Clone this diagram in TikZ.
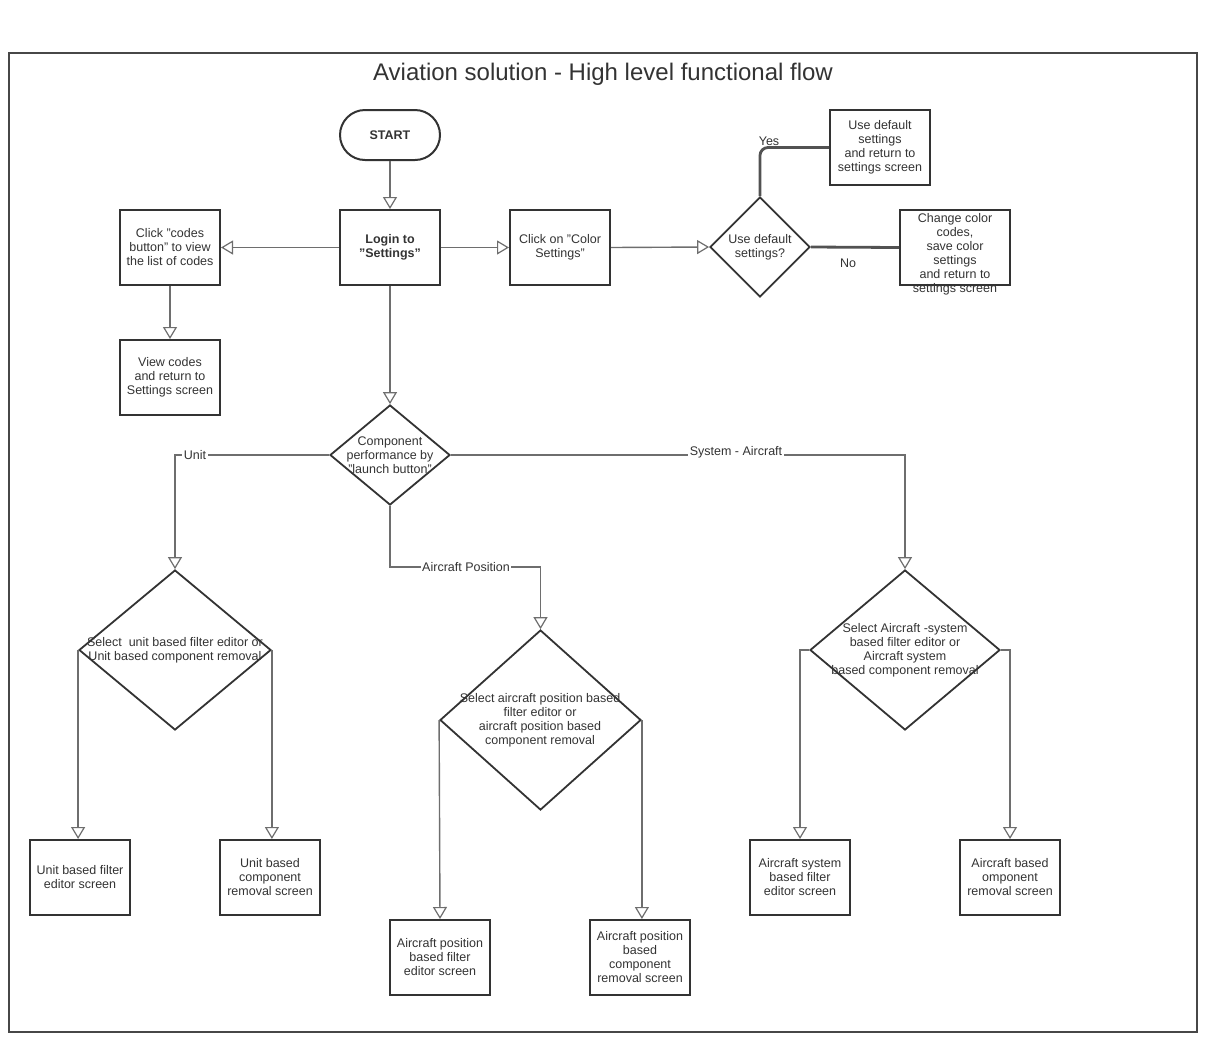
\documentclass[tikz,border=0pt]{standalone}
\usepackage{fontspec}
\setmainfont{Liberation Sans}
\usetikzlibrary{arrows.meta,shapes.geometric}
\definecolor{linegray}{HTML}{6E6E6E}
\definecolor{boxdark}{HTML}{333333}
\definecolor{txtgray}{HTML}{333333}
\newcommand\qq{\char34\relax}
\tikzset{
  box/.style={draw=boxdark, line width=2pt, minimum width=100pt, minimum height=75pt, inner sep=1pt, align=center, font=\fontsize{12.5}{14}\selectfont, text=txtgray},
  dia/.style={draw=boxdark, line width=1.8pt, diamond, inner sep=0pt},
  dtext/.style={align=center, font=\fontsize{12.5}{14}\selectfont, text=txtgray, inner sep=0pt},
  conn/.style={draw=linegray, line width=1.4pt, -{Triangle[open, width=14pt, length=12pt, line width=1.2pt, fill=white]}},
  thick line/.style={draw=boxdark!85, line width=2.8pt},
  lab/.style={fill=white, inner sep=1.5pt, font=\fontsize{12.5}{14}\selectfont, text=txtgray},
}
\begin{document}
\begin{tikzpicture}[x=1pt,y=-1pt]
\useasboundingbox (0,0) rectangle (1217,1053);
\draw[draw=boxdark!90, line width=1.8pt] (9,53) rectangle (1197,1032);
\node[font=\fontsize{24}{26}\selectfont, text=boxdark] (title) at (603,74) {Aviation solution - High level functional flow};

% top row
\node[draw=boxdark, line width=2pt, rounded corners=25pt, minimum width=100pt, minimum height=50pt, font=\bfseries\fontsize{12.5}{14}\selectfont, text=boxdark] (start) at (390,135) {START};
\node[box, font=\bfseries\fontsize{12.5}{14}\selectfont] (login) at (390,247.5) {Login to\\\qq Settings\qq};
\node[box] (color) at (560,247.5) {Click on \qq Color\\Settings\qq};
\node[dia, minimum width=100pt, minimum height=100pt] (usedef) at (760,247) {};
\node[dtext] (usedeft) at (760,247) {Use default\\settings?};
\node[box] (defbox) at (880,147.5) {Use default\\settings\\and return to\\settings screen};
\node[box, minimum width=110pt] (chgbox) at (955,247.5) {};
\node[dtext] (chgt) at (955,254) {Change color\\codes,\\save color\\settings\\and return to\\settings screen};
\node[box] (codes) at (170,247.5) {Click \qq codes\\button\qq\ to view\\the list of codes};
\node[box] (view) at (170,377.5) {View codes\\and return to\\Settings screen};

% component diamond
\node[dia, minimum width=120pt, minimum height=100pt] (comp) at (390,455) {};
\node[dtext] (compt) at (390,455) {Component\\performance by\\\qq launch button\qq};

% second level diamonds
\node[dia, minimum width=192pt, minimum height=160pt] (unitd) at (175,650) {};
\node[dtext] (unitdt) at (175,650) {Select\ \ unit based filter editor or\\Unit based component removal};
\node[dia, minimum width=201pt, minimum height=180pt] (apd) at (540.5,720) {};
\node[dtext] (apdt) at (540,720) {Select aircraft position based\\filter editor or\\aircraft position based\\component removal};
\node[dia, minimum width=190pt, minimum height=160pt] (sysd) at (905,650) {};
\node[dtext] (sysdt) at (905,650) {Select Aircraft -system\\based filter editor or\\Aircraft system\\based component removal};

% bottom boxes
\node[box] (ufilt) at (80,877.5) {Unit based filter\\editor screen};
\node[box] (urem) at (270,877.5) {Unit based\\component\\removal screen};
\node[box] (apfilt) at (440,957.5) {Aircraft position\\based filter\\editor screen};
\node[box] (aprem) at (640,957.5) {Aircraft position\\based\\component\\removal screen};
\node[box] (asfilt) at (800,877.5) {Aircraft system\\based filter\\editor screen};
\node[box] (abrem) at (1010,877.5) {Aircraft based\\omponent\\removal screen};

% connectors top
\draw[conn] (start.south) -- (login.north);
\draw[conn] (login.west) -- (codes.east);
\draw[conn] (login.east) -- (color.west);
\draw[conn] (color.east) -- (usedef.west);
\draw[thick line, rounded corners=8pt] (usedef.north) |- (defbox.west);
\node[lab, fill=none] (yes) at (769,141) {Yes};
\draw[thick line] (usedef.east) -- (chgbox.west);
\node[lab, fill=none] (no) at (848,263) {No};
\draw[conn] (codes.south) -- (view.north);
\draw[conn] (login.south) -- (comp.north);

% component branches
\draw[conn] (comp.west) -| (unitd.north);
\node[lab] (unitlab) at (195,455) {Unit};
\draw[conn] (comp.east) -| (sysd.north);
\node[lab] (syslab) at (736,452) {System - Aircraft};
\coordinate (apturn) at (390,567);
\draw[conn] (comp.south) -- (apturn) -| (apd.north);
\node[lab] (aplab) at (466,567) {Aircraft Position};

% leaves
\draw[conn] (unitd.west) -- (ufilt.north -| unitd.west);
\draw[conn] (unitd.east) -- (urem.north -| unitd.east);
\draw[conn] (apd.west) -- (apfilt.north);
\draw[conn] (apd.east) -- (aprem.north -| apd.east);
\draw[conn] (sysd.west) -| (asfilt.north);
\draw[conn] (sysd.east) -| (abrem.north);
\end{tikzpicture}
\end{document}
